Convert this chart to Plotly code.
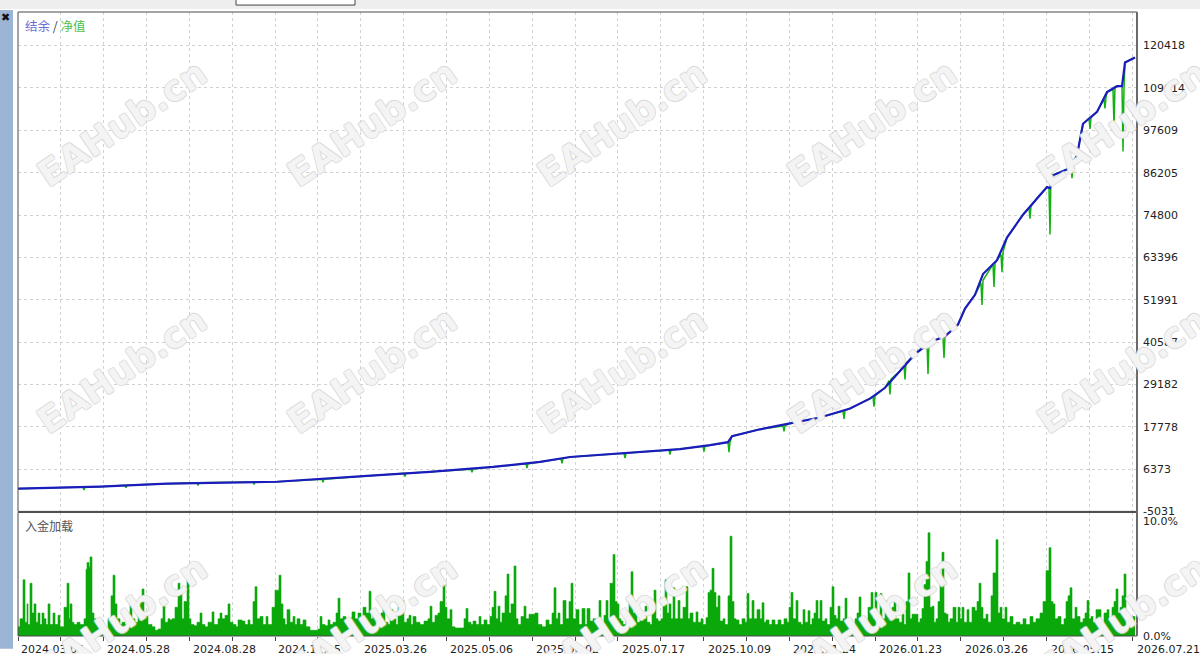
import plotly.graph_objects as go

# ---------------- data (trade position on x) ----------------
y_tick_vals = [-5031, 6373, 17778, 29182, 40587, 51991, 63396, 74800, 86205, 97609, 109014, 120418]
x_tick_dates = ["2024.03.05", "2024.05.28", "2024.08.28", "2024.11.15", "2025.03.26", "2025.05.06",
                "2025.06.02", "2025.07.17", "2025.10.09", "2025.11.24", "2026.01.23", "2026.03.26",
                "2026.05.15", "2026.07.21"]
x_tick_trades = [18, 104, 190, 275, 361, 447, 533, 619, 705, 790, 876, 962, 1048, 1134]

balance_trade = [18, 100, 167, 277, 367, 430, 493, 540, 570, 600, 640, 680, 710, 728, 732, 760, 790,
                 820, 850, 870, 885, 900, 915, 930, 945, 958, 965, 975, 983, 997, 1007, 1023, 1037,
                 1047, 1050, 1053, 1070, 1077, 1083, 1097, 1107, 1117, 1122, 1125, 1135]
balance_value = [1090, 1630, 2430, 2960, 4560, 5620, 6950, 8290, 9620, 10150, 10950, 11750, 12810,
                 13610, 15210, 17080, 18670, 20270, 22670, 25330, 28260, 32790, 37320, 40510, 42110,
                 45310, 49570, 53300, 58890, 62620, 68740, 74870, 79400, 82330, 82060, 85520, 87390,
                 90850, 99370, 102570, 107890, 109490, 109490, 115880, 117220]

equity_points = [(18, 1090), (83, 1520), (84, 700), (85, 1540), (100, 1630), (125, 1980), (126, 1350),
                 (127, 2000), (167, 2430), (197, 2650), (198, 1950), (199, 2660), (253, 2880), (254, 2250),
                 (255, 2890), (277, 2960), (322, 3600), (323, 2850), (324, 3620), (367, 4560), (404, 5250),
                 (405, 4350), (406, 5270), (430, 5620), (471, 6350), (472, 5500), (473, 6370), (493, 6950),
                 (526, 7800), (527, 6600), (528, 7820), (540, 8290), (561, 9150), (562, 7900), (563, 9180),
                 (570, 9620), (600, 10150), (624, 10600), (625, 9300), (626, 10620), (640, 10950),
                 (669, 11500), (670, 10300), (671, 11520), (680, 11750), (703, 12500), (704, 11100),
                 (705, 12520), (710, 12810), (728, 13600), (729, 10900), (730, 13620), (732, 15210),
                 (760, 17080), (783, 18000), (784, 16500), (785, 18040), (790, 18670), (813, 19900),
                 (814, 18300), (815, 19950), (820, 20270), (843, 21950), (844, 19900), (845, 22100),
                 (850, 22670), (873, 25900), (874, 23200), (875, 26100), (885, 28260), (889, 30200),
                 (890, 26500), (891, 30600), (900, 32790), (904, 34300), (905, 30500), (906, 34900),
                 (915, 37320), (927, 40300), (928, 32000), (929, 40400), (930, 40510), (943, 42000),
                 (944, 36300), (945, 42110), (958, 45310), (965, 49570), (975, 53300), (981, 56500),
                 (982, 50600), (983, 57200), (993, 61500), (994, 55400), (995, 61800), (997, 62620),
                 (1001, 64200), (1002, 59400), (1003, 64800), (1007, 68740), (1023, 74870), (1029, 76800),
                 (1030, 73800), (1031, 77200), (1037, 79400), (1047, 82330), (1049, 81800), (1050, 69540),
                 (1051, 86060), (1053, 85520), (1070, 87390), (1071, 87600), (1072, 84700), (1073, 87900),
                 (1077, 90850), (1083, 99370), (1089, 100800), (1090, 98000), (1091, 101000),
                 (1097, 102570), (1104, 106000), (1105, 103500), (1106, 106500), (1107, 107890),
                 (1113, 108600), (1114, 98840), (1115, 109300), (1117, 109490), (1122, 109450),
                 (1123, 91910), (1124, 109000), (1125, 115880), (1135, 117220)]

load_2024 = [(18, 0.8), (20, 1.5), (23, 4.9), (25, 1.2), (27, 2.8), (28, 1.0), (30, 4.6), (32, 2.0), (34, 2.8),
             (36, 1.2), (38, 2.0), (40, 1.0), (42, 2.0), (44, 1.5), (46, 1.0), (48, 2.8), (50, 1.0), (53, 2.0),
             (55, 1.0), (58, 1.8), (60, 0.8), (64, 2.5), (67, 4.6), (69, 1.5), (70, 2.8), (72, 1.2), (74, 1.0),
             (77, 1.2), (80, 1.0), (84, 1.5), (86, 5.8), (87, 6.4), (89, 6.0), (90, 6.9), (92, 2.0), (94, 1.5),
             (96, 1.0), (98, 1.0), (100, 0.9), (104, 0.6), (108, 1.5), (111, 3.5), (113, 5.3), (115, 2.8),
             (117, 1.5), (120, 1.0), (122, 1.2), (125, 1.0), (128, 2.0), (130, 2.8), (132, 1.5), (135, 1.2),
             (138, 2.0), (140, 3.0), (142, 4.1), (144, 2.0), (146, 1.7), (148, 1.0), (152, 0.8), (155, 0.5),
             (158, 0.6), (161, 1.5), (163, 2.6), (165, 1.2), (168, 1.5), (170, 1.4), (172, 1.5), (175, 2.5),
             (178, 4.6), (180, 3.8), (182, 1.5), (184, 3.0), (187, 4.9), (189, 1.5), (191, 1.0), (194, 0.9),
             (197, 1.2), (200, 2.0), (202, 1.0), (205, 0.8), (208, 1.2), (212, 2.1), (214, 1.0), (218, 1.5),
             (220, 2.0), (222, 1.5), (225, 1.8), (228, 2.8), (230, 1.2), (233, 1.0), (236, 0.8), (238, 1.4),
             (242, 1.3), (245, 1.0), (248, 1.4), (250, 1.0), (253, 3.0), (255, 4.3), (257, 1.5), (260, 1.7),
             (263, 1.0), (266, 1.7), (268, 1.0), (272, 2.5), (275, 4.0), (279, 5.3), (281, 2.8), (283, 1.5),
             (285, 1.0), (287, 2.3), (290, 1.2), (293, 1.7), (295, 1.0), (297, 1.5), (300, 1.0), (303, 1.4),
             (306, 0.8), (310, 0.5), (315, 0.5), (318, 0.6), (320, 1.7), (322, 1.0), (325, 0.9), (328, 1.4),
             (330, 1.0), (333, 1.2), (336, 2.0), (338, 3.3), (340, 1.5), (343, 1.7), (346, 1.0), (349, 1.6),
             (352, 2.1), (355, 1.5), (358, 2.0), (361, 1.2), (363, 2.5), (366, 2.0), (369, 3.9), (371, 1.5),
             (373, 2.0), (375, 1.5), (378, 1.2), (381, 2.0), (383, 2.8), (385, 1.2), (388, 1.0), (390, 2.3),
             (393, 1.5), (396, 1.0), (398, 2.5)]
load_2025 = [(402, 3.1), (404, 1.2), (407, 1.5), (409, 1.8), (411, 1.0), (413, 1.7), (416, 1.2), (420, 1.0),
             (424, 1.3), (428, 1.5), (430, 2.6), (432, 1.2), (435, 1.8), (438, 2.0), (440, 3.0), (443, 4.5),
             (445, 2.5), (447, 1.5), (450, 2.3), (452, 0.8), (455, 0.7), (460, 0.7), (464, 1.5), (466, 2.4),
             (468, 1.2), (471, 1.0), (473, 1.3), (476, 1.0), (479, 1.7), (481, 1.0), (484, 1.4), (487, 1.0),
             (490, 1.7), (492, 2.5), (494, 3.9), (496, 1.5), (498, 2.6), (500, 1.2), (502, 2.0), (505, 3.5),
             (507, 5.4), (509, 2.0), (511, 2.8), (514, 6.1), (516, 1.5), (518, 1.0), (521, 1.7), (524, 2.6),
             (526, 1.5), (529, 1.9), (532, 1.9), (535, 2.0), (538, 1.0), (542, 0.8), (546, 1.4), (549, 1.0),
             (552, 2.0), (554, 4.2), (556, 1.5), (558, 2.0), (560, 1.0), (563, 3.1), (566, 1.5), (569, 3.0),
             (571, 4.6), (573, 1.5), (576, 2.3), (579, 1.0), (582, 2.4), (585, 1.0), (587, 2.4), (590, 1.3),
             (593, 1.5), (596, 1.0), (599, 3.1), (601, 1.2), (604, 1.8), (606, 3.1), (608, 1.5), (610, 4.6),
             (613, 7.1), (615, 3.0), (617, 2.8), (619, 1.5), (621, 1.3), (623, 1.0), (626, 1.5), (629, 3.0),
             (631, 5.6), (633, 2.0), (635, 2.8), (637, 1.2), (640, 1.5), (643, 1.5), (645, 2.6), (647, 1.2),
             (650, 1.0), (652, 2.5), (654, 4.0), (656, 1.5), (658, 1.3), (661, 1.5), (663, 3.0), (665, 4.9),
             (667, 2.0), (669, 2.8), (671, 1.5), (673, 4.2), (675, 1.5), (678, 3.1), (680, 1.5), (683, 2.5),
             (686, 4.3), (688, 1.5), (690, 2.0), (693, 1.2), (696, 2.1), (698, 1.2), (701, 1.5), (703, 1.0),
             (706, 1.6), (708, 3.8), (710, 4.0), (712, 5.9), (714, 3.8), (716, 2.5), (718, 3.5), (720, 1.3),
             (723, 1.5), (725, 1.0), (728, 3.5), (730, 8.7), (732, 3.0), (734, 1.5), (736, 1.4), (739, 1.0),
             (742, 1.5), (745, 1.2), (747, 3.7), (749, 1.5), (752, 3.1), (754, 1.5), (757, 2.3), (760, 1.5),
             (762, 2.9), (764, 1.2), (766, 1.4), (769, 1.0), (772, 1.4), (775, 1.0), (778, 1.4), (781, 1.0),
             (784, 1.5), (787, 1.2), (789, 2.5), (791, 3.8), (793, 1.5), (796, 3.1), (798, 1.2)]
load_2026 = [(801, 1.0), (803, 2.3), (805, 1.2), (808, 2.2), (810, 1.0), (812, 1.5), (814, 2.0), (816, 3.1),
             (818, 1.5), (820, 3.1), (822, 1.3), (825, 1.5), (827, 1.0), (830, 2.5), (832, 4.3), (834, 1.8),
             (836, 1.5), (838, 2.6), (840, 1.3), (843, 1.5), (845, 3.3), (847, 1.3), (850, 1.4), (852, 1.0),
             (855, 1.5), (857, 2.0), (859, 3.4), (861, 1.5), (863, 1.7), (865, 1.0), (868, 2.5), (871, 3.8),
             (873, 1.5), (875, 3.8), (877, 1.2), (880, 3.7), (882, 1.5), (885, 2.0), (887, 3.1), (889, 1.5),
             (892, 2.5), (894, 3.1), (896, 1.5), (899, 1.2), (902, 1.9), (904, 1.0), (906, 3.0), (908, 5.5),
             (910, 1.5), (912, 1.9), (915, 1.9), (918, 1.2), (920, 1.5), (922, 2.4), (924, 4.5), (926, 6.5),
             (928, 9.0), (930, 2.5), (932, 2.6), (934, 1.2), (936, 1.5), (938, 3.0), (940, 5.0), (942, 7.3),
             (944, 2.0), (946, 1.9), (948, 1.2), (950, 1.5), (953, 2.5), (956, 1.2), (958, 2.5), (960, 1.5),
             (962, 2.5), (964, 1.2), (967, 2.3), (969, 1.2), (972, 2.5), (975, 2.2), (977, 3.0), (979, 4.6),
             (981, 2.5), (983, 1.5), (986, 1.9), (988, 1.2), (991, 3.5), (993, 5.5), (996, 8.4), (998, 2.0),
             (1000, 2.5), (1002, 1.5), (1005, 2.5), (1007, 1.2), (1010, 1.7), (1013, 1.0), (1016, 1.2),
             (1020, 1.0), (1023, 1.5), (1026, 1.0), (1030, 1.7), (1033, 1.2), (1036, 1.5), (1040, 2.0),
             (1043, 3.0), (1046, 5.7), (1049, 7.7), (1051, 3.0), (1053, 2.8), (1055, 1.5), (1058, 1.7),
             (1061, 1.0), (1064, 1.5), (1066, 3.0), (1068, 3.5), (1070, 4.2), (1072, 1.5), (1075, 2.5),
             (1077, 1.7), (1080, 1.2), (1083, 1.5), (1085, 2.0), (1087, 3.1), (1089, 1.5), (1091, 1.7),
             (1093, 1.2), (1096, 2.3), (1099, 2.3), (1101, 1.2), (1104, 2.0), (1107, 2.3), (1109, 1.5),
             (1112, 2.5), (1114, 3.0), (1116, 4.1), (1118, 2.0), (1120, 2.5), (1122, 3.5), (1124, 5.4),
             (1126, 1.5), (1129, 1.7), (1131, 1.2), (1133, 1.7), (1135, 1.4)]

# ---------------- layout geometry ----------------
W, H = 1200, 654
ML, MR, MT, MB = 18, 63, 12, 11
PW, PH = W - ML - MR, H - MT - MB


def pxx(px):
    return (px - ML) / PW


def pxy(py):
    return (H - MB - py) / PH


top_lo = pxy(517)
low_hi = pxy(518)

eq_x = [p[0] for p in equity_points]
eq_v = [p[1] for p in equity_points]
load_pts = load_2024 + load_2025 + load_2026
load_x = [p[0] for p in load_pts]
load_v = [p[1] for p in load_pts]

GRID = "#d2d2d2"
AX_FONT = dict(family="DejaVu Sans", size=11, color="#222222")

fig = go.Figure()
fig.add_trace(go.Scatter(x=eq_x, y=eq_v, mode="lines", line=dict(color="#14b014", width=1.5),
                         xaxis="x", yaxis="y", hoverinfo="skip", name="净值"))
fig.add_trace(go.Scatter(x=balance_trade, y=balance_value, mode="lines",
                         line=dict(color="#1c1cbe", width=2.2),
                         xaxis="x", yaxis="y", hoverinfo="skip", name="结余"))
fig.add_trace(go.Scatter(x=load_x, y=load_v, mode="lines",
                         line=dict(color="#0aa80a", width=0.6, shape="hv"),
                         fill="tozeroy", fillcolor="#0aa80a",
                         xaxis="x2", yaxis="y2", hoverinfo="skip", name="入金加载"))

xcommon = dict(range=[18, 1137], tick0=18, dtick=42.85, showgrid=True, gridcolor=GRID,
               griddash="3px,3px", gridwidth=1, zeroline=False, showline=False,
               showticklabels=False)

fig.update_layout(
    width=W, height=H,
    margin=dict(l=ML, r=MR, t=MT, b=MB),
    paper_bgcolor="white", plot_bgcolor="white",
    showlegend=False,
    xaxis=dict(domain=[0, 1], anchor="y", ticks="", **xcommon),
    xaxis2=dict(domain=[0, 1], anchor="y2", matches="x", ticks="outside", ticklen=4,
                tickcolor="#444444", tickwidth=1, **xcommon),
    yaxis=dict(domain=[top_lo, 1], anchor="x", side="right", range=[-5031, 129474],
               tickvals=y_tick_vals, ticktext=[str(v) for v in y_tick_vals],
               showgrid=True, gridcolor=GRID, griddash="3px,3px", zeroline=False,
               showline=False, ticks="", tickfont=AX_FONT, ticklabelstandoff=5),
    yaxis2=dict(domain=[0, low_hi], anchor="x2", side="right", range=[0, 10.78],
                tickvals=[0, 10], ticktext=["0.0%", "10.0%"], showgrid=False,
                zeroline=False, showline=False, ticks="", tickfont=AX_FONT,
                ticklabelstandoff=5),
)

shapes = [
    # window chrome
    dict(type="rect", xref="paper", yref="paper", x0=pxx(0), x1=pxx(13), y0=pxy(H + 2), y1=pxy(10),
         fillcolor="#9db5d4", line=dict(width=0), layer="above"),
    dict(type="rect", xref="paper", yref="paper", x0=pxx(-2), x1=pxx(W + 2), y0=pxy(9), y1=pxy(-2),
         fillcolor="#eeeeee", line=dict(width=0), layer="above"),
    dict(type="rect", xref="paper", yref="paper", x0=pxx(236), x1=pxx(355), y0=pxy(5), y1=pxy(-3),
         fillcolor="white", line=dict(color="#444444", width=1), layer="above"),
    # panel frames
    dict(type="rect", xref="paper", yref="paper", x0=0, x1=1, y0=top_lo, y1=1,
         line=dict(color="#4a4a4a", width=1), layer="above"),
    dict(type="rect", xref="paper", yref="paper", x0=0, x1=1, y0=0, y1=low_hi,
         line=dict(color="#4a4a4a", width=1), layer="above"),
    dict(type="line", xref="paper", yref="paper", x0=0, x1=1, y0=pxy(517.5), y1=pxy(517.5),
         line=dict(color="#505050", width=2), layer="above"),
    dict(type="line", xref="paper", yref="paper", x0=1, x1=1, y0=0, y1=1,
         line=dict(color="#6a6a6a", width=2), layer="above"),
]
fig.update_layout(shapes=shapes)

ann = []
# legend-like captions
ann.append(dict(xref="paper", yref="paper", x=pxx(23), y=pxy(14), xanchor="left", yanchor="top",
                showarrow=False,
                text='<span style="color:#6c6cd8">结余</span><span style="color:#444444"> / </span>'
                     '<span style="color:#4cc24c">净值</span>',
                font=dict(family="Noto Sans CJK SC", size=12.5)))
ann.append(dict(xref="paper", yref="paper", x=pxx(23), y=pxy(521), xanchor="left", yanchor="top",
                showarrow=False, text="入金加载",
                font=dict(family="Noto Sans CJK SC", size=12, color="#555555")))
ann.append(dict(xref="paper", yref="paper", x=pxx(5), y=pxy(18), xanchor="center", yanchor="middle",
                showarrow=False, text="✖", font=dict(family="DejaVu Sans", size=11, color="#111111")))
# date labels (left-aligned on their tick)
for t, d in zip(x_tick_trades, x_tick_dates):
    ann.append(dict(xref="x2", yref="paper", x=t, y=pxy(648), xanchor="left", yanchor="top",
                    xshift=1, showarrow=False, text=d, font=AX_FONT))
# watermarks
WM_SHADOW = "1px 0 0 #d4d4d4, -1px 0 0 #d4d4d4, 0 1px 0 #d4d4d4, 0 -1px 0 #d4d4d4"
for cy in [125, 375, 625]:
    for cx in [122, 372, 622, 872, 1122]:
        ann.append(dict(xref="paper", yref="paper", x=pxx(cx), y=pxy(cy), xanchor="center",
                        yanchor="middle", showarrow=False, text="EAHub.cn", textangle=-34,
                        font=dict(family="DejaVu Sans", size=36, weight="bold",
                                  color="rgba(255,255,255,0.75)", shadow=WM_SHADOW)))
fig.update_layout(annotations=ann)

fig.write_html("out.html", config={"displayModeBar": False},
               post_script="document.body.style.margin='0px';")
